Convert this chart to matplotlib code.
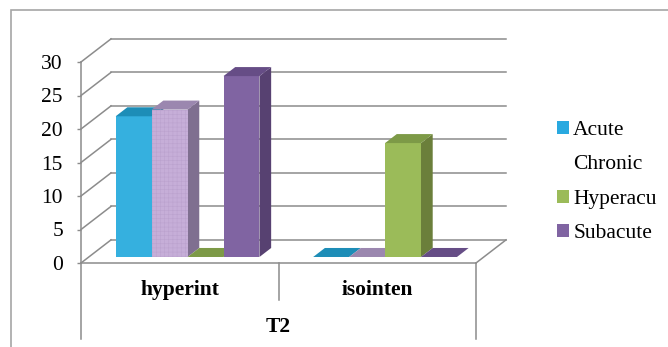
import matplotlib.pyplot as plt
from matplotlib.lines import Line2D
from matplotlib.patches import Polygon, Patch, Rectangle

# data
categories = ['hyperint', 'isointen']
group_label = 'T2'
series = ['Acute', 'Chronic', 'Hyperacu', 'Subacute']
acute = [21, 0]
chronic = [22, 0]
hyperacu = [0, 17]
subacute = [27, 0]
values = [acute, chronic, hyperacu, subacute]
yticks = [0, 5, 10, 15, 20, 25, 30]

# (front, top, side) shades for each series
shades = [('#35B0DF', '#1D8DB7', '#1A7199'),
          ('#C6AED8', '#9B87AF', '#7F6F90'),
          ('#9BBB59', '#7D9A47', '#6B7F3B'),
          ('#8064A2', '#664D86', '#574171')]
legend_colors = ['#29A9E0', 'none', '#9BBB59', '#8064A2']

GRID = '#8C8C8C'
DX, DY = 0.152, 3.45      # oblique depth offset of the back wall (data units)
D0, D1 = 0.26, 0.65       # depth fraction of bar front / back faces
GAP = 0.136               # space at each side of a bar group
W = (1 - 2 * GAP) / len(series)

plt.rcParams['font.family'] = 'Liberation Serif'
plt.rcParams['hatch.linewidth'] = 0.4

fig = plt.figure(figsize=(6.68, 3.47), dpi=100)
ax = fig.add_axes([81 / 668, 84 / 347, 395 / 668, 201 / 347])
ax.set_xlim(0, len(categories))
ax.set_ylim(0, 30)
for s in ax.spines.values():
    s.set_visible(False)
ax.set_xticks([])
ax.set_yticks(yticks)
ax.tick_params(axis='y', length=3, width=1, color=GRID, pad=10, labelsize=15.5)


def line(xs, ys, **kw):
    ax.add_line(Line2D(xs, ys, color=GRID, lw=1.1, clip_on=False, **kw))


def pt(x, y, d):
    return (x + d * DX, y + d * DY)


# walls and floor
n = len(categories)
for v in yticks:
    line([0, DX], [v, v + DY])
    line([DX, n + DX], [v + DY, v + DY])
line([0, n], [0, 0])
line([n, n + DX], [0, DY])

# front axis and category dividers
line([0, 0], [30, -11.4])
line([n, n], [0, -11.3])
for i in range(1, n):
    line([i, i], [0, -5.5])


def bar3d(x, h, colors, hatch=None):
    front, top, side = colors
    if h > 0:
        ax.add_patch(Polygon([pt(x + W, 0, D0), pt(x + W, 0, D1), pt(x + W, h, D1),
                              pt(x + W, h, D0)], closed=True, fc=side, lw=0,
                             clip_on=False, zorder=3))
        ax.add_patch(Polygon([pt(x, 0, D0), pt(x + W, 0, D0), pt(x + W, h, D0),
                              pt(x, h, D0)], closed=True, fc=front, lw=0,
                             ec='#BBA2CE' if hatch else front, hatch=hatch,
                             clip_on=False, zorder=3))
    ax.add_patch(Polygon([pt(x, h, D0), pt(x + W, h, D0), pt(x + W, h, D1),
                          pt(x, h, D1)], closed=True, fc=top, lw=0,
                         clip_on=False, zorder=3))


for i in range(n):
    for j, vals in enumerate(values):
        bar3d(i + GAP + j * W, vals[i], shades[j], hatch='++++' if j == 1 else None)

# category labels
for i, c in enumerate(categories):
    ax.text(i + 0.5, -4.0, c, ha='center', va='center', fontsize=15.5, fontweight='bold')
ax.text(n / 2, -9.5, group_label, ha='center', va='center', fontsize=15.5, fontweight='bold')

# outer frame
fig.add_artist(Rectangle((11 / 668, -0.1), 1.2, 1 - 10 / 347 + 0.1, transform=fig.transFigure,
                         fill=False, ec='#A6A6A6', lw=1.2))

handles = [Patch(fc=c, ec='none') for c in legend_colors]
fig.legend(handles, series, loc='center left', bbox_to_anchor=(557 / 668, 1 - 182 / 347),
           frameon=False, fontsize=15.5, handlelength=0.55, handleheight=0.55,
           handletextpad=0.2, labelspacing=0.72, borderpad=0, borderaxespad=0)

fig.savefig('out.png', dpi=100)
